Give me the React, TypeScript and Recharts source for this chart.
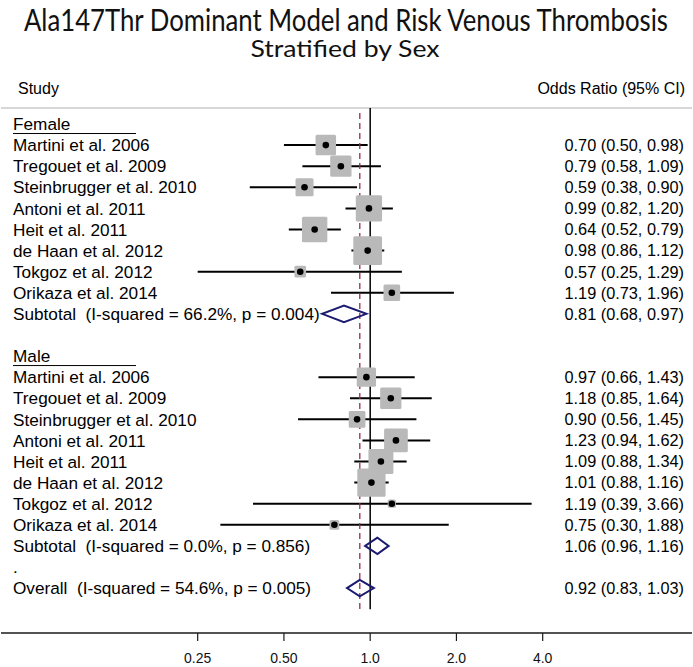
import React from 'react';
import { ComposedChart, XAxis, YAxis, Scatter, ErrorBar, ReferenceLine } from 'recharts';

// ---------------- data ----------------
const TITLE = 'Ala147Thr Dominant Model and Risk Venous Thrombosis';
const SUBTITLE = 'Stratified by Sex';
const STUDIES = [
  'Martini et al. 2006',
  'Tregouet et al. 2009',
  'Steinbrugger et al. 2010',
  'Antoni et al. 2011',
  'Heit et al. 2011',
  'de Haan et al. 2012',
  'Tokgoz et al. 2012',
  'Orikaza et al. 2014',
];
const FEMALE_OR = [0.7, 0.79, 0.59, 0.99, 0.64, 0.98, 0.57, 1.19];
const FEMALE_LO = [0.5, 0.58, 0.38, 0.82, 0.52, 0.86, 0.25, 0.73];
const FEMALE_HI = [0.98, 1.09, 0.9, 1.2, 0.79, 1.12, 1.29, 1.96];
const FEMALE_WEIGHT = [6.2, 6.7, 4.8, 10.2, 9.5, 12.2, 2.0, 4.1];
const FEMALE_SUB = { or: 0.81, lo: 0.68, hi: 0.97, i2: 66.2, p: 0.004 };

const MALE_OR = [0.97, 1.18, 0.9, 1.23, 1.09, 1.01, 1.19, 0.75];
const MALE_LO = [0.66, 0.85, 0.56, 0.94, 0.88, 0.88, 0.39, 0.3];
const MALE_HI = [1.43, 1.64, 1.45, 1.62, 1.34, 1.16, 3.66, 1.88];
const MALE_WEIGHT = [5.5, 6.7, 4.1, 8.3, 9.2, 11.8, 1.0, 1.4];
const MALE_SUB = { or: 1.06, lo: 0.96, hi: 1.16, i2: 0.0, p: 0.856 };

const OVERALL = { or: 0.92, lo: 0.83, hi: 1.03, i2: 54.6, p: 0.005 };

const X_TICKS = [0.25, 0.5, 1, 2, 4];
const X_TICK_LABELS = ['0.25', '0.50', '1.0', '2.0', '4.0'];

// ---------------- layout constants ----------------
const W = 693;
const H = 667;
const X_DOMAIN: [number, number] = [0.05146, 13.28];
const Y_DOMAIN: [number, number] = [-5.88, 24.13];
const HEADER_RULE_ROW = -0.76;
const NULL_LINE_BOTTOM = 23.0;
const DASH_TOP = -0.52;
const DASH_BOTTOM = 23.1;
const DIAMOND_HALF = 0.39;
const BOX_K = 8.23;
const TEXT_FONT = '"Liberation Sans", Arial, Helvetica, sans-serif';
const NAVY = '#1b1b70';
const DASH_COLOR = '#9a2b4a';

// ---------------- rows ----------------
type Row = {
  row: number;
  kind: 'group' | 'study' | 'pooled' | 'blank' | 'dot';
  label: string;
  or?: number;
  lo?: number;
  hi?: number;
  weight?: number;
};

const fmt = (v: number) => v.toFixed(2);
const rows: Row[] = [];
const add = (r: Omit<Row, 'row'>) => rows.push({ ...r, row: rows.length });

function addGroup(name: string, ors: number[], los: number[], his: number[], ws: number[], sub: typeof FEMALE_SUB) {
  add({ kind: 'group', label: name });
  STUDIES.forEach((s, i) => add({ kind: 'study', label: s, or: ors[i], lo: los[i], hi: his[i], weight: ws[i] }));
  add({
    kind: 'pooled',
    label: `Subtotal  (I-squared = ${sub.i2.toFixed(1)}%, p = ${sub.p.toFixed(3)})`,
    or: sub.or,
    lo: sub.lo,
    hi: sub.hi,
  });
}
addGroup('Female', FEMALE_OR, FEMALE_LO, FEMALE_HI, FEMALE_WEIGHT, FEMALE_SUB);
add({ kind: 'blank', label: '' });
addGroup('Male', MALE_OR, MALE_LO, MALE_HI, MALE_WEIGHT, MALE_SUB);
add({ kind: 'dot', label: '.' });
add({
  kind: 'pooled',
  label: `Overall  (I-squared = ${OVERALL.i2.toFixed(1)}%, p = ${OVERALL.p.toFixed(3)})`,
  or: OVERALL.or,
  lo: OVERALL.lo,
  hi: OVERALL.hi,
});

const studyPoints = rows
  .filter((r) => r.kind === 'study')
  .map((r) => ({ ...r, err: [(r.or as number) - (r.lo as number), (r.hi as number) - (r.or as number)] }));

const diamonds = rows
  .filter((r) => r.kind === 'pooled')
  .map((r) => [
    { or: r.lo, row: r.row },
    { or: r.or, row: r.row - DIAMOND_HALF },
    { or: r.hi, row: r.row },
    { or: r.or, row: r.row + DIAMOND_HALF },
    { or: r.lo, row: r.row },
    { or: r.or, row: r.row - DIAMOND_HALF },
  ]);

const nullLine = [
  { or: 1, row: HEADER_RULE_ROW },
  { or: 1, row: NULL_LINE_BOTTOM },
];
const overallLine = [
  { or: OVERALL.or, row: DASH_TOP },
  { or: OVERALL.or, row: DASH_BOTTOM },
];
const rowTicks = rows.map((r) => r.row);

// ---------------- shapes ----------------
const Empty = () => <g />;

const BoxShape = (props: any) => {
  const { cx, cy } = props;
  const p = props.payload || props;
  const side = BOX_K * Math.sqrt(p.weight || 0);
  return <rect x={cx - side / 2} y={cy - side / 2} width={side} height={side} fill="#b9b9b9" rx={1.5} ry={1.5} />;
};

const DotShape = (props: any) => {
  const { cx, cy } = props;
  return <circle cx={cx} cy={cy} r={3.3} fill="#000" />;
};

const LeftTick = (props: any) => {
  const { y, payload } = props;
  const r = rows[payload?.value];
  if (!r || !r.label) return <g />;
  return (
    <g>
      <text
        x={13}
        y={y}
        dy="0.36em"
        fontSize={17.2}
        fontFamily={TEXT_FONT}
        fill="#000"
        textAnchor="start"
        style={{ whiteSpace: 'pre' }}
      >
        {r.label}
      </text>
      {r.kind === 'group' && <line x1={13} x2={136} y1={y + 9.5} y2={y + 9.5} stroke="#000" strokeWidth={1} />}
    </g>
  );
};

const RightTick = (props: any) => {
  const { y, payload } = props;
  const r = rows[payload?.value];
  if (!r || r.or === undefined) return <g />;
  return (
    <text x={684} y={y} dy="0.36em" fontSize={16.3} fontFamily={TEXT_FONT} fill="#000" textAnchor="end">
      {`${fmt(r.or)} (${fmt(r.lo as number)}, ${fmt(r.hi as number)})`}
    </text>
  );
};

// ---------------- component ----------------
export default function App() {
  return (
    <div style={{ position: 'absolute', left: 0, top: 0, width: W, height: H, background: '#fff' }}>
      <ComposedChart width={W} height={H} margin={{ top: 0, right: 0, bottom: 0, left: 0 }}>
        <XAxis
          xAxisId="or"
          type="number"
          dataKey="or"
          scale="log"
          domain={X_DOMAIN}
          allowDataOverflow
          ticks={X_TICKS}
          interval={0}
          tickFormatter={(v: number) => X_TICK_LABELS[X_TICKS.indexOf(v)] ?? String(v)}
          height={34}
          tickSize={8}
          tickMargin={12}
          axisLine={{ stroke: '#1a1a1a', strokeWidth: 1.4 }}
          tickLine={{ stroke: '#1a1a1a', strokeWidth: 1.2 }}
          tick={{ fontSize: 14, fill: '#111', fontFamily: TEXT_FONT }}
        />
        <YAxis
          yAxisId="left"
          type="number"
          dataKey="row"
          domain={Y_DOMAIN}
          allowDataOverflow
          reversed
          width={1}
          ticks={rowTicks}
          interval={0}
          axisLine={false}
          tickLine={false}
          tick={<LeftTick />}
        />
        <YAxis
          yAxisId="right"
          orientation="right"
          type="number"
          dataKey="row"
          domain={Y_DOMAIN}
          allowDataOverflow
          reversed
          width={1}
          ticks={rowTicks}
          interval={0}
          axisLine={false}
          tickLine={false}
          tick={<RightTick />}
        />
        <ReferenceLine
          xAxisId="or"
          yAxisId="left"
          y={HEADER_RULE_ROW}
          stroke="#b0b0b0"
          strokeWidth={1.2}
          ifOverflow="visible"
        />
        <Scatter
          xAxisId="or"
          yAxisId="left"
          data={nullLine}
          line={{ stroke: '#000', strokeWidth: 1.5 }}
          lineType="joint"
          shape={<Empty />}
          isAnimationActive={false}
        />
        <Scatter
          xAxisId="or"
          yAxisId="left"
          data={overallLine}
          line={{ stroke: DASH_COLOR, strokeWidth: 1.3, strokeDasharray: '6 4' }}
          lineType="joint"
          shape={<Empty />}
          isAnimationActive={false}
        />
        <Scatter xAxisId="or" yAxisId="left" data={studyPoints} shape={<BoxShape />} isAnimationActive={false} />
        <Scatter xAxisId="or" yAxisId="left" data={studyPoints} shape={<DotShape />} isAnimationActive={false}>
          <ErrorBar dataKey="err" direction="x" width={0} stroke="#000" strokeWidth={2} isAnimationActive={false} />
        </Scatter>
        {diamonds.map((d, i) => (
          <Scatter
            key={i}
            xAxisId="or"
            yAxisId="left"
            data={d}
            line={{ stroke: NAVY, strokeWidth: 2, strokeLinejoin: 'miter' }}
            lineType="joint"
            shape={<Empty />}
            isAnimationActive={false}
          />
        ))}
      </ComposedChart>
      <svg width={W} height={110} style={{ position: 'absolute', left: 0, top: 0, pointerEvents: 'none' }}>
        <text
          x={346}
          y={31}
          textAnchor="middle"
          fontFamily="Lato, 'Open Sans', sans-serif"
          fontSize={30}
          fill="#111"
          textLength={644}
          lengthAdjust="spacingAndGlyphs"
        >
          {TITLE}
        </text>
        <text
          x={345}
          y={57}
          textAnchor="middle"
          fontFamily="Lato, 'Open Sans', sans-serif"
          fontSize={24}
          fill="#111"
          textLength={189}
          lengthAdjust="spacingAndGlyphs"
        >
          {SUBTITLE}
        </text>
        <text x={18} y={94} fontFamily={TEXT_FONT} fontSize={16} fill="#000">
          Study
        </text>
        <text x={685} y={94} textAnchor="end" fontFamily={TEXT_FONT} fontSize={16} fill="#000">
          Odds Ratio (95% CI)
        </text>
      </svg>
    </div>
  );
}
